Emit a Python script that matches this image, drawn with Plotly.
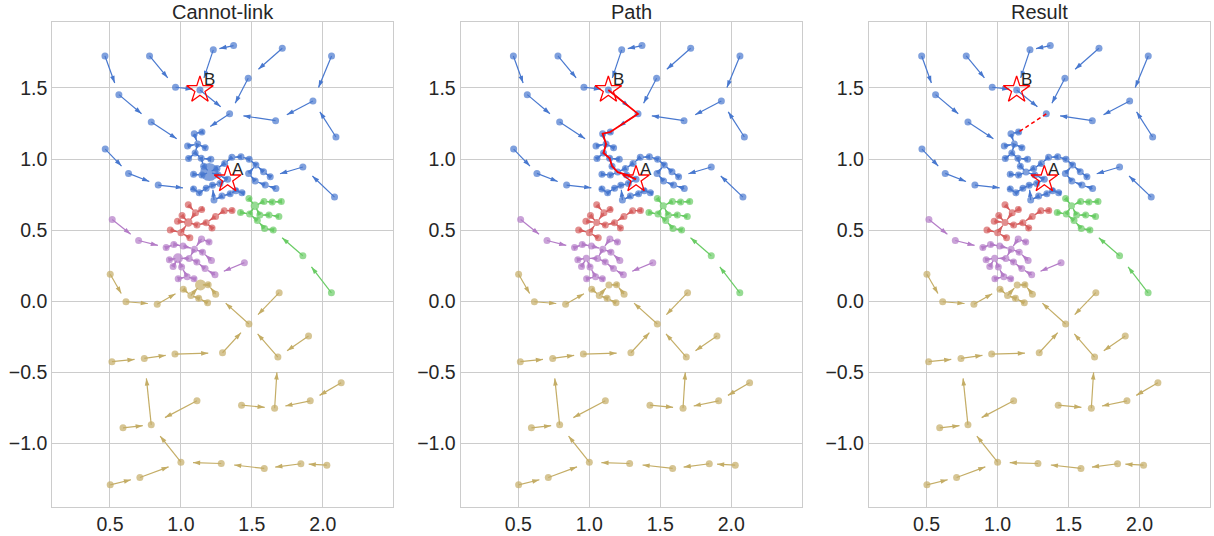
import math
import plotly.graph_objects as go

# ---------------- data ----------------
# each cluster: point coordinates + index of parent point (-1 = root)
blue_x = [1.200, 1.160, 1.143, 1.100, 1.118, 1.094, 1.148, 1.047, 1.171, 1.054,
          1.211, 1.089, 1.148, 1.262, 1.329, 1.275, 1.222, 1.178, 1.129, 1.089,
          1.233, 1.289, 1.347, 1.387, 1.430, 1.254, 1.308, 1.359, 1.423, 1.481,
          1.528, 1.582, 1.629, 1.477, 1.523, 1.594, 1.669, 1.134, 1.343, 0.465,
          0.563, 0.791, 0.779, 0.962, 1.228, 1.371, 1.714, 1.474, 2.061, 1.930,
          1.667, 2.092, 0.467, 0.631, 0.840, 1.859, 2.082]
blue_y = [0.908, 0.950, 1.005, 1.042, 1.105, 1.178, 1.190, 1.092, 1.080, 1.003,
          0.998, 0.892, 0.887, 0.888, 0.857, 0.828, 0.815, 0.795, 0.762, 0.789,
          0.711, 0.739, 0.756, 0.777, 0.763, 0.934, 0.969, 1.012, 1.016, 0.998,
          0.958, 0.911, 0.876, 0.899, 0.845, 0.817, 0.793, 1.486, 1.318, 1.725,
          1.453, 1.261, 1.725, 1.505, 1.768, 1.798, 1.779, 1.568, 1.725, 1.408,
          1.270, 1.155, 1.070, 0.899, 0.817, 0.944, 0.732]
blue_parent = [-1, 0, 1, 2, 3, 4, 5, 4, 4, 3,
               2, 12, 0, 0, 13, 14, 15, 16, 17, 18,
               16, 20, 21, 22, 23, 0, 25, 26, 27, 28,
               29, 30, 31, 30, 33, 34, 35, 38, 6, 40,
               41, 7, 43, 37, 37, 44, 47, 38, 49, 50,
               38, 49, 53, 54, 19, 32, 55]

red_x = [1.052, 1.052, 1.146, 1.103, 1.008, 0.976, 0.925, 1.000, 1.063, 1.113,
         1.178, 1.219, 1.244, 1.305, 1.360]
red_y = [0.554, 0.678, 0.645, 0.622, 0.602, 0.562, 0.501, 0.482, 0.446, 0.535,
         0.552, 0.514, 0.596, 0.636, 0.638]
red_parent = [-1, 3, 3, 0, 0, 0, 7, 0, 7, 0, 9, 10, 10, 12, 13]

green_x = [1.521, 1.479, 1.585, 1.643, 1.707, 1.420, 1.484, 1.556, 1.620, 1.690,
           1.538, 1.589, 1.650, 1.859, 2.060]
green_y = [0.671, 0.723, 0.702, 0.697, 0.702, 0.624, 0.613, 0.606, 0.606, 0.596,
           0.568, 0.512, 0.500, 0.319, 0.059]
green_parent = [-1, 0, 0, 2, 3, 6, 0, 0, 7, 8, 6, 10, 11, 12, 13]

purple_x = [0.979, 0.516, 0.702, 0.896, 0.950, 1.015, 1.095, 1.058, 1.145, 1.198,
            1.152, 1.215, 0.919, 0.945, 1.005, 1.112, 1.170, 1.240, 1.447, 0.981,
            1.044, 1.092]
purple_y = [0.302, 0.575, 0.427, 0.377, 0.399, 0.388, 0.366, 0.300, 0.438, 0.416,
            0.345, 0.286, 0.292, 0.244, 0.240, 0.276, 0.229, 0.185, 0.271, 0.157,
            0.172, 0.157]
purple_parent = [-1, 2, 3, 4, 5, 6, 7, 0, 6, 8, 6, 10, 0, 0, 0, 7, 15, 16, 17, 20,
                 14, 20]

gold_x = [1.138, 1.070, 1.017, 1.125, 1.188, 1.192, 1.245, 0.502, 0.613, 0.833,
          1.479, 1.692, 1.293, 1.683, 1.899, 0.514, 0.742, 0.958, 1.113, 0.791,
          0.592, 1.427, 1.660, 1.911, 2.129, 1.000, 1.284, 1.587, 1.845, 2.028,
          0.502, 0.711]
gold_y = [0.114, 0.040, 0.084, 0.020, -0.011, 0.116, 0.049, 0.189, -0.004, -0.022,
          -0.161, 0.060, -0.363, -0.393, -0.245, -0.426, -0.403, -0.372, -0.701, -0.870,
          -0.891, -0.732, -0.753, -0.701, -0.574, -1.133, -1.142, -1.177, -1.144, -1.154,
          -1.292, -1.241]
gold_parent = [-1, 0, 1, 1, 3, 0, 5, 8, 9, 2,
               6, 10, 10, 10, 13, 16, 17, 12, 19, 16,
               19, 22, 13, 22, 23, 19, 25, 26, 27, 28,
               31, 25]

colors = {"blue": "#4878CF", "red": "#D65F5F", "green": "#6ACC65",
          "purple": "#B47CC7", "gold": "#C4AD66"}
clusters = [("blue", blue_x, blue_y, blue_parent),
            ("red", red_x, red_y, red_parent),
            ("green", green_x, green_y, green_parent),
            ("purple", purple_x, purple_y, purple_parent),
            ("gold", gold_x, gold_y, gold_parent)]

root_size_panel1 = {"blue": 18, "red": 8.5, "green": 8.5, "purple": 10, "gold": 11}

point_A = 14          # index in blue cluster
point_B = 37
path_B_to_A = [37, 38, 6, 5, 4, 3, 2, 1, 0, 13, 14]
cut_edge = (38, 6)    # cannot-link cut: child -> parent

panel_titles = ["Cannot-link", "Path", "Result"]
x_ticks = [0.5, 1.0, 1.5, 2.0]
y_ticks = [-1.0, -0.5, 0.0, 0.5, 1.0, 1.5]
X_RANGE = [0.094, 2.496]
Y_RANGE = [-1.446, 1.964]

ARROW_FRAC = 0.7
W, H = 1214, 536
panel_left_px = [52.3, 460.7, 869.0]
panel_w_px = 341.0
panel_top_px, panel_bot_px = 22.0, 506.7
FONT = "Liberation Sans, Arial, sans-serif"

# ---------------- figure ----------------
fig = go.Figure()


def edge_data(xs, ys, parents, skip=None):
    lx, ly, hx, hy, ang = [], [], [], [], []
    for i, p in enumerate(parents):
        if p < 0 or (skip is not None and (i, p) == skip):
            continue
        x0, y0, x1, y1 = xs[i], ys[i], xs[p], ys[p]
        ex = x0 + ARROW_FRAC * (x1 - x0)
        ey = y0 + ARROW_FRAC * (y1 - y0)
        lx += [x0, ex, None]
        ly += [y0, ey, None]
        hx.append(ex)
        hy.append(ey)
        ang.append(math.degrees(math.atan2(x1 - x0, y1 - y0)))
    return lx, ly, hx, hy, ang


for k in range(3):
    xa = "x" if k == 0 else f"x{k+1}"
    ya = "y" if k == 0 else f"y{k+1}"
    # arrows
    for name, xs, ys, par in clusters:
        skip = cut_edge if (k == 2 and name == "blue") else None
        lx, ly, hx, hy, ang = edge_data(xs, ys, par, skip)
        c = colors[name]
        fig.add_trace(go.Scatter(x=lx, y=ly, mode="lines", xaxis=xa, yaxis=ya,
                                 line=dict(color=c, width=1.2), hoverinfo="skip"))
        fig.add_trace(go.Scatter(x=hx, y=hy, mode="markers", xaxis=xa, yaxis=ya,
                                 marker=dict(symbol="arrow", size=7.5, angle=ang, color=c,
                                             line=dict(width=0)),
                                 hoverinfo="skip"))
    # points
    for name, xs, ys, par in clusters:
        c = colors[name]
        sizes = []
        for i, p in enumerate(par):
            if k == 0 and p < 0:
                sizes.append(root_size_panel1[name])
            else:
                sizes.append(7)
        fig.add_trace(go.Scatter(x=xs, y=ys, mode="markers", xaxis=xa, yaxis=ya,
                                 marker=dict(size=sizes, color=c, line=dict(width=0)),
                                 hoverinfo="skip"))
    # path / cut
    if k == 1:
        fig.add_trace(go.Scatter(x=[blue_x[i] for i in path_B_to_A],
                                 y=[blue_y[i] for i in path_B_to_A],
                                 mode="lines", xaxis=xa, yaxis=ya,
                                 line=dict(color="#FF0000", width=1.8), hoverinfo="skip"))
    if k == 2:
        c0, c1 = cut_edge
        fig.add_trace(go.Scatter(x=[blue_x[c0], blue_x[c1]], y=[blue_y[c0], blue_y[c1]],
                                 mode="lines", xaxis=xa, yaxis=ya,
                                 line=dict(color="#FF0000", width=1.5, dash="4px,3px"),
                                 hoverinfo="skip"))
    # stars
    fig.add_trace(go.Scatter(x=[blue_x[point_A], blue_x[point_B]],
                             y=[blue_y[point_A], blue_y[point_B]],
                             mode="markers", xaxis=xa, yaxis=ya,
                             marker=dict(symbol="star-open", size=20, color="#FF0000",
                                         line=dict(width=1.3, color="#FF0000")),
                             hoverinfo="skip"))
    for lab, idx in (("A", point_A), ("B", point_B)):
        fig.add_annotation(x=blue_x[idx], y=blue_y[idx], xref=xa, yref=ya, text=lab,
                           showarrow=False, xshift=10, yshift=10,
                           font=dict(size=17, color="#262626", family=FONT))
    # title
    cx = (panel_left_px[k] + panel_w_px / 2) / W
    fig.add_annotation(x=cx, y=1 - 12 / H, xref="paper", yref="paper",
                       text=panel_titles[k], showarrow=False, xanchor="center",
                       yanchor="middle", font=dict(size=20, color="#262626", family=FONT))

axis_common = dict(showgrid=True, gridcolor="#cccccc", gridwidth=1, zeroline=False,
                   showline=True, mirror=True, linecolor="#cccccc", linewidth=1.25,
                   ticks="", tickfont=dict(size=19.5, color="#262626", family=FONT))
layout = {}
for k in range(3):
    x0 = panel_left_px[k] / W
    x1 = (panel_left_px[k] + panel_w_px) / W
    xn = "xaxis" if k == 0 else f"xaxis{k+1}"
    yn = "yaxis" if k == 0 else f"yaxis{k+1}"
    ax_anchor = "y" if k == 0 else f"y{k+1}"
    ay_anchor = "x" if k == 0 else f"x{k+1}"
    layout[xn] = dict(axis_common, domain=[x0, x1], range=X_RANGE, anchor=ax_anchor,
                      tickvals=x_ticks, ticktext=[f"{v:.1f}" for v in x_ticks])
    layout[yn] = dict(axis_common, domain=[1 - panel_bot_px / H, 1 - panel_top_px / H],
                      range=Y_RANGE, anchor=ay_anchor, tickvals=y_ticks,
                      ticktext=[f"{v:.1f}".replace("-", "\u2212") for v in y_ticks])

fig.update_layout(width=W, height=H, margin=dict(l=0, r=0, t=0, b=0),
                  paper_bgcolor="white", plot_bgcolor="white", showlegend=False,
                  hovermode=False, **layout)

fig.write_html("out.html", config={"displayModeBar": False},
               post_script="document.body.style.margin='0';"
                           "document.body.style.overflow='hidden';")
